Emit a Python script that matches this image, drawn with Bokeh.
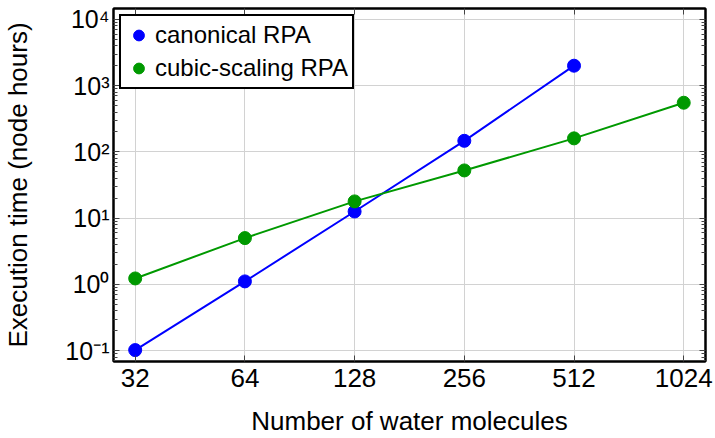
from bokeh.plotting import figure
from bokeh.models import FixedTicker, LogAxis, Legend, LegendItem, Range1d
from bokeh.embed import file_html
from bokeh.resources import INLINE

# ---- data ----
canonical_n = [32, 64, 128, 256, 512]
canonical_time = [0.102, 1.11, 12.6, 147, 2000]
cubic_n = [32, 64, 128, 256, 512, 1024]
cubic_time = [1.23, 5.0, 17.9, 52.5, 160, 552]

x_ticks = [32, 64, 128, 256, 512, 1024]
x_tick_labels = ["32", "64", "128", "256", "512", "1024"]
y_ticks = [0.1, 1, 10, 100, 1000, 10000]
y_tick_labels = ["10\u207b\u00b9", "10\u2070", "10\u00b9", "10\u00b2", "10\u00b3", "10\u2074"]
y_minor = [m * 10.0 ** e for e in range(-2, 5) for m in range(2, 10)]

series_names = ["canonical RPA", "cubic-scaling RPA"]
series_colors = ["#0000ff", "#009900"]

FONT = "Liberation Sans"

p = figure(
    x_axis_type="log", y_axis_type="log",
    x_range=Range1d(27.9, 1175), y_range=Range1d(0.0686, 14600),
    width=715, height=438,
    min_border_left=109, min_border_top=8, min_border_right=10, min_border_bottom=74,
    output_backend="svg", toolbar_location=None,
    background_fill_color="white", border_fill_color="white",
)
p.outline_line_color = "black"
p.outline_line_width = 2

xt = FixedTicker(ticks=x_ticks, minor_ticks=[])
yt = FixedTicker(ticks=y_ticks, minor_ticks=y_minor)
x_over = {t: l for t, l in zip(x_ticks, x_tick_labels)}
y_over = {t: l for t, l in zip(y_ticks, y_tick_labels)}


def style_axis(ax):
    ax.axis_line_color = "black"
    ax.axis_line_width = 2
    ax.major_tick_in = 6
    ax.major_tick_out = 0
    ax.minor_tick_in = 4
    ax.minor_tick_out = 0
    ax.major_tick_line_color = "#444444"
    ax.minor_tick_line_color = "#444444"
    ax.major_label_text_font = FONT
    ax.axis_label_text_font = FONT
    ax.axis_label_text_font_style = "normal"
    ax.axis_label_text_color = "black"
    ax.major_label_text_color = "black"


xa = p.xaxis[0]
xa.ticker = xt
xa.major_label_overrides = x_over
style_axis(xa)
xa.major_label_text_font_size = "26px"
xa.major_label_standoff = 7
xa.axis_label = "Number of water molecules"
xa.axis_label_text_font_size = "26px"
xa.axis_label_standoff = 16

ya = p.yaxis[0]
ya.ticker = yt
ya.major_label_overrides = y_over
style_axis(ya)
ya.major_label_text_font_size = "25px"
ya.major_label_standoff = 4
ya.axis_label = "Execution time (node hours)"
ya.axis_label_text_font_size = "26px"
ya.axis_label_standoff = 29

top = LogAxis(ticker=FixedTicker(ticks=x_ticks, minor_ticks=[]),
              major_label_overrides={t: "" for t in x_ticks},
              major_label_standoff=0)
style_axis(top)
p.add_layout(top, "above")
right = LogAxis(ticker=FixedTicker(ticks=y_ticks, minor_ticks=y_minor),
                major_label_overrides={t: "" for t in y_ticks},
                major_label_standoff=0)
style_axis(right)
p.add_layout(right, "right")

p.xgrid.grid_line_color = "#d2d2d2"
p.ygrid.grid_line_color = "#d2d2d2"
p.xgrid.grid_line_width = 1
p.ygrid.grid_line_width = 1

items = []
for xs, ys, name, col in [(canonical_n, canonical_time, series_names[0], series_colors[0]),
                          (cubic_n, cubic_time, series_names[1], series_colors[1])]:
    p.line(xs, ys, line_color=col, line_width=2)
    r = p.scatter(xs, ys, marker="circle", size=13, fill_color=col, line_color=col)
    items.append(LegendItem(label=name, renderers=[r]))

legend = Legend(items=items, location="top_left")
legend.margin = 6
legend.border_line_color = "black"
legend.border_line_alpha = 1
legend.border_line_width = 2
legend.background_fill_color = "white"
legend.background_fill_alpha = 1
legend.label_text_font = FONT
legend.label_text_font_size = "24px"
legend.label_text_color = "black"
legend.glyph_width = 27
legend.glyph_height = 30
legend.label_height = 30
legend.label_standoff = 3
legend.spacing = 3
legend.padding = 4
p.add_layout(legend, "center")

open("out.html", "w").write(file_html(p, INLINE))
